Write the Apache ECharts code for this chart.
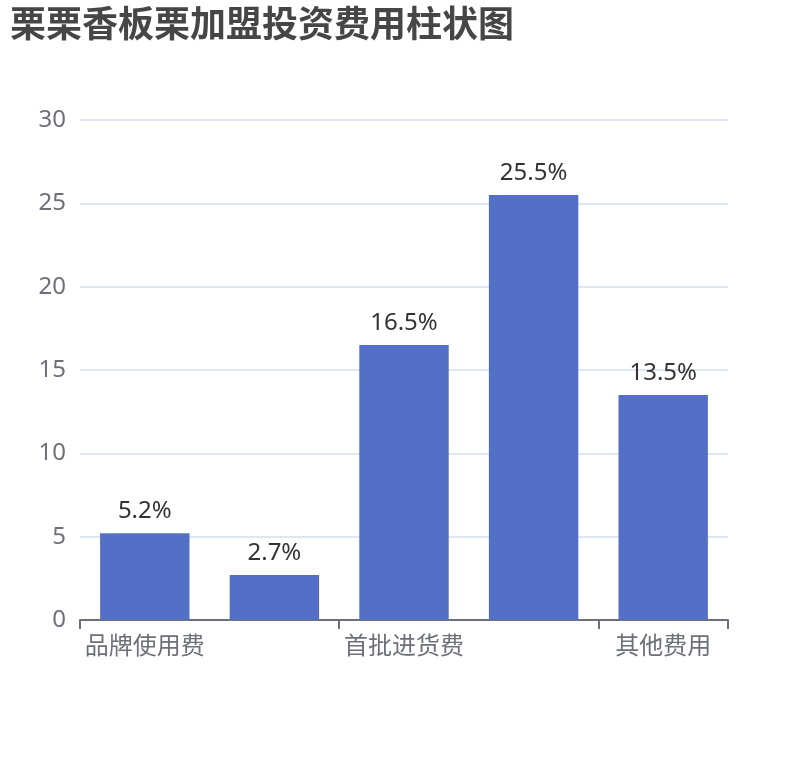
<!DOCTYPE html>
<html lang="zh">
<head>
    <meta charset="UTF-8">
    <title>栗栗香板栗加盟投资费用柱状图</title>
    <style>
        html, body { margin: 0; padding: 0; background: #fff; }
        #main { width: 810px; height: 760px; }
    </style>
</head>
<body>
    <div id="main"></div>
    <script src="https://cdn.jsdelivr.net/npm/echarts@6/dist/echarts.min.js"></script>
    <script>
        // 数据
        var categories = ['品牌使用费', '加盟费', '首批进货费', '店面装修费', '其他费用'];
        var values = [5.2, 2.7, 16.5, 25.5, 13.5];
        var yTicks = { min: 0, max: 30, interval: 5 };

        var chart = echarts.init(document.getElementById('main'));
        var option = {
            textStyle: { fontFamily: '"Noto Sans", "Noto Sans CJK SC", sans-serif' },
            title: {
                text: '栗栗香板栗加盟投资费用柱状图',
                left: 5,
                top: 0,
                textStyle: {
                    fontSize: 36, fontWeight: 'bold', color: '#464646',
                    fontFamily: '"Noto Sans CJK SC", sans-serif'
                }
            },
            grid: { left: 80, right: 82, top: 120, bottom: 140 },
            xAxis: {
                type: 'category',
                data: categories,
                axisLabel: {
                    interval: 1, fontSize: 24, color: '#6e7079', margin: 13,
                    fontFamily: '"Noto Sans CJK SC", sans-serif'
                },
                axisLine: { lineStyle: { color: '#6e7079', width: 2 } },
                axisTick: { show: true, length: 9, lineStyle: { width: 2 } }
            },
            yAxis: {
                type: 'value',
                min: yTicks.min,
                max: yTicks.max,
                interval: yTicks.interval,
                axisLabel: { fontSize: 24, color: '#6e7079', margin: 14 },
                splitLine: { lineStyle: { color: '#e0e6f1', width: 2 } }
            },
            series: [{
                type: 'bar',
                data: values,
                barWidth: '69%',
                itemStyle: { color: '#5470c6' },
                label: {
                    show: true,
                    position: 'top',
                    distance: 10,
                    fontSize: 24,
                    color: '#333',
                    formatter: '{c}%'
                }
            }]
        };
        chart.setOption(option);
    </script>
</body>
</html>
